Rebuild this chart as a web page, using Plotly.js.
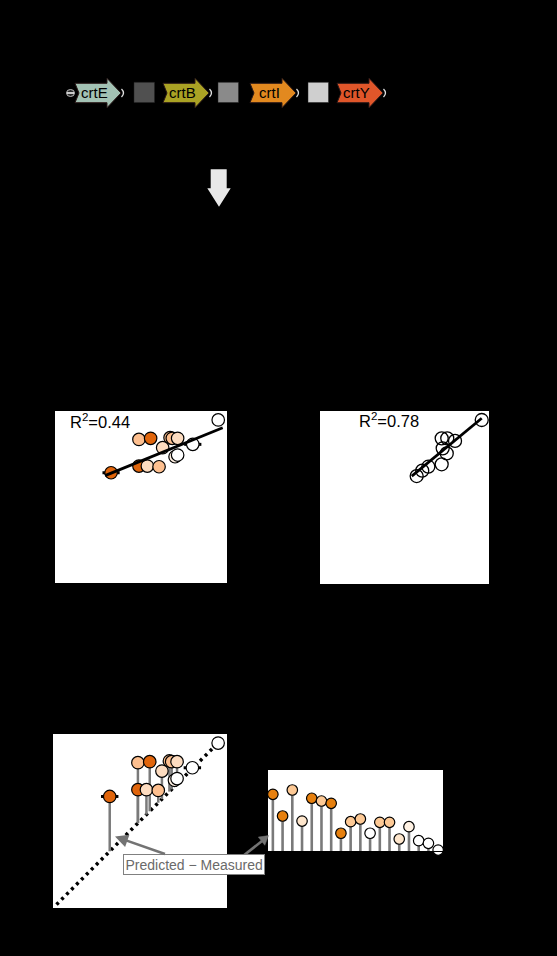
<!DOCTYPE html>
<html><head><meta charset="utf-8">
<script src="https://cdn.plot.ly/plotly-3.0.1.min.js"></script>
<style>html,body{margin:0;padding:0;background:#000;}#chart{width:557px;height:956px;}</style>
</head><body><div id="chart"></div>
<script>
// ---------- data ----------
const geneNames = ['crtE', 'crtB', 'crtI', 'crtY'];
const geneColors = ['#a3c2b4', '#aaa224', '#e2891f', '#e0562a'];
const spacerColors = ['#505050', '#8a8a8a', '#cfcfcf'];

// panel A (measured vs predicted, model 1)
const measA = [94.9, 32.6, 48.8, 53.7, 60.5, 48.8, 55.6, 66.9, 68.2, 71.3, 62.6, 69.8, 71.3, 80.1];
const predA = [94.8, 64.1, 68.0, 68.0, 67.6, 83.5, 84.1, 84.5, 84.1, 84.1, 78.7, 73.4, 74.4, 80.6];
const errA  = [0, 5, 0, 0, 0, 0, 0, 0, 0, 0, 0, 0, 0, 5];
const shadeA = ['white', 'dark', 'dark', 'light', 'peach', 'peach', 'dark', 'peach', 'peach', 'light', 'light', 'pale', 'white', 'white'];
const fitAx = [29.1, 97.5];
const fitAy = [62.4, 90.3];
const r2A = '0.44';

// panel B (measured vs predicted, model 2)
const measB = [95.7, 72.0, 75.3, 79.9, 72.6, 75.0, 72.0, 64.1, 60.5, 57.2];
const predB = [94.8, 84.2, 84.2, 82.7, 78.4, 75.5, 69.2, 67.8, 65.5, 62.4];
const fitBx = [54.3, 95.7];
const fitBy = [62.4, 95.8];
const r2B = '0.78';

// panel D (predicted - measured, sorted)
const diffIdx = [1, 2, 3, 4, 5, 6, 7, 8, 9, 10, 11, 12, 13, 14, 15, 16, 17, 18];
const diffVal = [70.0, 43.2, 75.3, 37.0, 65.1, 61.7, 58.9, 21.9, 36.2, 39.5, 21.9, 35.4, 35.4, 14.8, 30.0, 12.7, 9.5, 1.2];
const shadeD = ['dark', 'dark', 'peach', 'light', 'dark', 'peach', 'dark', 'dark', 'peach', 'peach', 'white', 'peach', 'peach', 'light', 'pale', 'white', 'white', 'white'];
const diagLine = [2, 96];
const annText = 'Predicted \u2212 Measured';

// ---------- style ----------
const shade = {dark: '#e0650c', peach: '#fdbf8f', light: '#fddcc0', pale: '#fff0e2', white: '#ffffff'};
const shadeD4 = {dark: '#e6800f', peach: '#fdc995', light: '#fee6cc', pale: '#fff2e4', white: '#ffffff'};
const W = 557, H = 956;
const PX = v => v / W;
const PY = v => 1 - v / H;
const font = 'Liberation Sans, Arial, sans-serif';

// ---------- traces ----------
const traces = [];
// Panel A
traces.push({x: measA, y: predA, xaxis: 'x', yaxis: 'y', type: 'scatter', mode: 'markers',
  error_x: {type: 'data', array: errA, color: '#000', thickness: 3, width: 0},
  marker: {size: 12.5, color: shadeA.map(s => shade[s]), line: {color: '#000', width: 1.2}}, hoverinfo: 'skip'});
traces.push({x: fitAx, y: fitAy, xaxis: 'x', yaxis: 'y', type: 'scatter', mode: 'lines',
  line: {color: '#000', width: 2.8}, hoverinfo: 'skip'});
// Panel B
traces.push({x: measB, y: predB, xaxis: 'x2', yaxis: 'y2', type: 'scatter', mode: 'markers',
  marker: {size: 13, color: 'rgba(255,255,255,0)', line: {color: '#000', width: 1.3}}, hoverinfo: 'skip'});
traces.push({x: fitBx, y: fitBy, xaxis: 'x2', yaxis: 'y2', type: 'scatter', mode: 'lines',
  line: {color: '#000', width: 2.8}, hoverinfo: 'skip'});
// Panel C : identity + stems
traces.push({x: diagLine, y: diagLine, xaxis: 'x3', yaxis: 'y3', type: 'scatter', mode: 'lines',
  line: {color: '#000', width: 3.5, dash: '3px,4px'}, hoverinfo: 'skip'});
const stemX = [], stemY = [];
measA.forEach((m, i) => { stemX.push(m, m, null); stemY.push(m, predA[i], null); });
traces.push({x: stemX, y: stemY, xaxis: 'x3', yaxis: 'y3', type: 'scatter', mode: 'lines',
  line: {color: '#7a7a7a', width: 2.5}, hoverinfo: 'skip'});
traces.push({x: measA, y: predA, xaxis: 'x3', yaxis: 'y3', type: 'scatter', mode: 'markers',
  error_x: {type: 'data', array: errA, color: '#000', thickness: 3, width: 0},
  marker: {size: 12.5, color: shadeA.map(s => shade[s]), line: {color: '#000', width: 1.2}}, hoverinfo: 'skip'});
// Panel D : lollipops
const lx = [], ly = [];
diffIdx.forEach((k, i) => { lx.push(k, k, null); ly.push(0, diffVal[i], null); });
traces.push({x: lx, y: ly, xaxis: 'x4', yaxis: 'y4', type: 'scatter', mode: 'lines',
  line: {color: '#7a7a7a', width: 2.6}, hoverinfo: 'skip'});
traces.push({x: diffIdx, y: diffVal, xaxis: 'x4', yaxis: 'y4', type: 'scatter', mode: 'markers', cliponaxis: false,
  marker: {size: 10.5, color: shadeD.map(s => shadeD4[s]), line: {color: '#000', width: 1.2}}, hoverinfo: 'skip'});

// ---------- axes ----------
function ax(domain, range, anchor) {
  return {domain: domain, range: range, anchor: anchor, showgrid: false, zeroline: false,
    showticklabels: false, ticks: '', showline: true, linecolor: '#000', linewidth: 1, mirror: true, fixedrange: true};
}

// ---------- decoration: gene cassette ----------
const geneLeft = [75, 163, 250, 337];
const spacerLeft = [134, 218, 308];
const cy = 93;
const shapes = [];
const annotations = [];
function path(pts, close) {
  return 'M ' + pts.map(p => PX(p[0]).toFixed(5) + ',' + PY(p[1]).toFixed(5)).join(' L ') + (close === false ? '' : ' Z');
}
// promoter
shapes.push({type: 'circle', xref: 'paper', yref: 'paper', x0: PX(66.5), x1: PX(74.5), y0: PY(96.5), y1: PY(89.5),
  fillcolor: '#2a2a2a', line: {color: '#bbbbbb', width: 1}});
shapes.push({type: 'line', xref: 'paper', yref: 'paper', x0: PX(67), x1: PX(74), y0: PY(93), y1: PY(93), line: {color: '#ffffff', width: 1.5}});
geneNames.forEach((g, i) => {
  const L = geneLeft[i], Hs = L + 32, T = L + 46, b = 9.7, h = 14.7, n = 4;
  shapes.push({type: 'path', xref: 'paper', yref: 'paper', fillcolor: geneColors[i], line: {color: '#2a1818', width: 1},
    path: path([[L, cy - b], [Hs, cy - b], [Hs, cy - h], [T, cy], [Hs, cy + h], [Hs, cy + b], [L, cy + b], [L + n, cy]])});
  // terminator
  shapes.push({type: 'path', xref: 'paper', yref: 'paper', line: {color: '#e0e0e0', width: 1.3},
    path: 'M ' + PX(T + 0.5) + ',' + PY(cy - 4) + ' Q ' + PX(T + 4.5) + ',' + PY(cy) + ' ' + PX(T + 0.5) + ',' + PY(cy + 4)});
  annotations.push({text: g, xref: 'paper', yref: 'paper', x: PX(L + 19.5), y: PY(cy - 0.5), showarrow: false,
    xanchor: 'center', yanchor: 'middle', font: {family: font, size: 15, color: '#000'}});
});
spacerColors.forEach((c, i) => {
  const L = spacerLeft[i];
  shapes.push({type: 'rect', xref: 'paper', yref: 'paper', x0: PX(L), x1: PX(L + 20.5), y0: PY(102.5), y1: PY(82.3),
    fillcolor: c, line: {color: '#222', width: 0.5}});
});
// down arrow
shapes.push({type: 'path', xref: 'paper', yref: 'paper', fillcolor: '#e8e8e8', line: {width: 0},
  path: path([[210.7, 169.3], [226.7, 169.3], [226.7, 188.3], [230.7, 188.3], [219, 206.7], [207.3, 188.3], [210.7, 188.3]])});

// second callout arrow (box -> lollipop panel)
shapes.push({type: 'path', xref: 'paper', yref: 'paper', line: {color: '#737373', width: 2.6},
  path: path([[243, 856], [262, 841]], false)});
shapes.push({type: 'path', xref: 'paper', yref: 'paper', fillcolor: '#737373', line: {color: '#737373', width: 0.5},
  path: path([[268.5, 835.6], [264.8, 845.3], [258.3, 837.1]])});

// R2 labels
annotations.push({text: 'R<sup>2</sup>=' + r2A, xref: 'paper', yref: 'paper', x: PX(67.5), y: PY(420.5), showarrow: false,
  xanchor: 'left', yanchor: 'middle', font: {family: font, size: 16.5, color: '#000'}});
annotations.push({text: 'R<sup>2</sup>=' + r2B, xref: 'paper', yref: 'paper', x: PX(356.5), y: PY(419.5), showarrow: false,
  xanchor: 'left', yanchor: 'middle', font: {family: font, size: 16.5, color: '#000'}});

// Predicted - Measured callout
annotations.push({text: annText, xref: 'paper', yref: 'paper', x: PX(115), y: PY(836.5), ax: 78.5, ay: 27.5,
  showarrow: true, arrowhead: 2, arrowsize: 1, arrowwidth: 2.6, arrowcolor: '#737373',
  bgcolor: '#ffffff', bordercolor: '#808080', borderwidth: 1, borderpad: 1.5,
  font: {family: font, size: 14, color: '#6a6a6a'}});

const layout = {
  width: W, height: H, margin: {l: 0, r: 0, t: 0, b: 0},
  paper_bgcolor: '#000', plot_bgcolor: '#fff', showlegend: false,
  xaxis: ax([PX(55), PX(227)], [0, 100], 'y'),
  yaxis: ax([PY(583), PY(411)], [0, 100], 'x'),
  xaxis2: ax([PX(320), PX(489)], [0, 100], 'y2'),
  yaxis2: ax([PY(584), PY(411)], [0, 100], 'x2'),
  xaxis3: ax([PX(53), PX(227)], [0, 100], 'y3'),
  yaxis3: ax([PY(908), PY(734)], [0, 100], 'x3'),
  xaxis4: ax([PX(268), PX(443)], [0.5, 18.5], 'y4'),
  yaxis4: ax([PY(851), PY(770)], [0, 100], 'x4'),
  shapes: shapes, annotations: annotations
};

Plotly.newPlot('chart', traces, layout, {displayModeBar: false, staticPlot: true});
</script>
</body></html>
